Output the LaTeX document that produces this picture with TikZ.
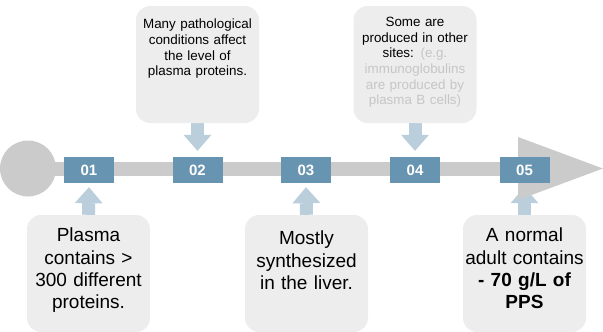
\documentclass[tikz,border=0pt]{standalone}
\usepackage{fontspec}
\setmainfont{Liberation Sans}
\usetikzlibrary{arrows.meta,positioning}
\definecolor{railgray}{HTML}{CBCBCB}
\definecolor{stepblue}{HTML}{6794B0}
\definecolor{paleblue}{HTML}{BBCEDB}
\definecolor{boxgray}{HTML}{EDEDED}
\definecolor{notegray}{HTML}{C6C6C6}
\pgfdeclarelayer{background}
\pgfsetlayers{background,main}

\tikzset{
  numbox/.style={fill=stepblue, minimum width=50pt, minimum height=26pt, inner sep=0pt,
    text=white, font=\fontsize{15}{18}\selectfont\bfseries},
  notebox/.style={fill=boxgray, rounded corners=14pt, minimum width=123pt, minimum height=117pt, inner sep=0pt},
  toptext/.style={text width=121pt, align=center, inner sep=0pt, font=\fontsize{13.4}{15.7}\selectfont},
  bottext/.style={text width=121pt, align=center, inner sep=0pt, font=\fontsize{19}{22.4}\selectfont},
  pointer/.style={draw=paleblue, line width=13pt, -{Triangle[length=16pt,width=28pt,line width=0pt]}},
}

\begin{document}
\begin{tikzpicture}[x=1pt,y=-1pt]
  \useasboundingbox (0,0) rectangle (603,332);

  % step markers on the rail
  \node[numbox] (n1) at (89,170) {01};
  \node[numbox] (n2) at (197.5,170) {02};
  \node[numbox] (n3) at (306,170) {03};
  \node[numbox] (n4) at (415,170) {04};
  \node[numbox] (n5) at (524.5,170) {05};

  % note boxes above
  \node[notebox] (t2) at (197.5,64.5) {};
  \node[notebox] (t4) at (415,64.5) {};
  % note boxes below
  \node[notebox] (b1) at (88.5,273.5) {};
  \node[notebox] (b3) at (306.5,273.5) {};
  \node[notebox] (b5) at (524.5,273.5) {};

  % Text Node
  \node[toptext, anchor=north] (t2text) at ([yshift=-13pt]t2.north) {Many pathological\\ conditions affect\\ the level of\\ plasma proteins.};
  % Text Node
  \node[toptext, anchor=north] (t4text) at ([yshift=-11pt]t4.north) {Some are\\ produced in other\\ sites: \color{notegray}(e.g.\\ immunoglobulins\\ are produced by\\ plasma B cells)};
  % Text Node
  \node[bottext, anchor=north] (b1text) at ([yshift=-13pt]b1.north) {Plasma\\ contains >\\ 300 different\\ proteins.};
  % Text Node
  \node[bottext, anchor=north] (b3text) at ([yshift=-16pt]b3.north) {Mostly\\ synthesized\\ in the liver.};
  % Text Node
  \node[bottext, anchor=north] (b5text) at ([yshift=-13pt]b5.north) {A normal\\ adult contains\\ \textbf{- 70 g/L of}\\ \textbf{PPS}};

  \begin{pgfonlayer}{background}
    % pointers from the notes to the markers
    \draw[pointer] (t2.south) -- ([yshift=6pt]n2.north);
    \draw[pointer] (t4.south) -- ([yshift=6pt]n4.north);
    \foreach \b/\n in {b1/n1,b3/n3,b5/n5}
      \draw[pointer] (\b.north) -- ([yshift=-4pt]\n.south);

    % the rail
    \node[circle, fill=railgray, minimum size=56pt, inner sep=0pt] (start) at (28,168.5) {};
    \coordinate (tip) at (603,168.5);
    \fill[railgray] (28,162) rectangle (520,175.5);
    \fill[railgray] (518,137) -- (tip) -- (518,200) -- cycle;
  \end{pgfonlayer}
\end{tikzpicture}
\end{document}
